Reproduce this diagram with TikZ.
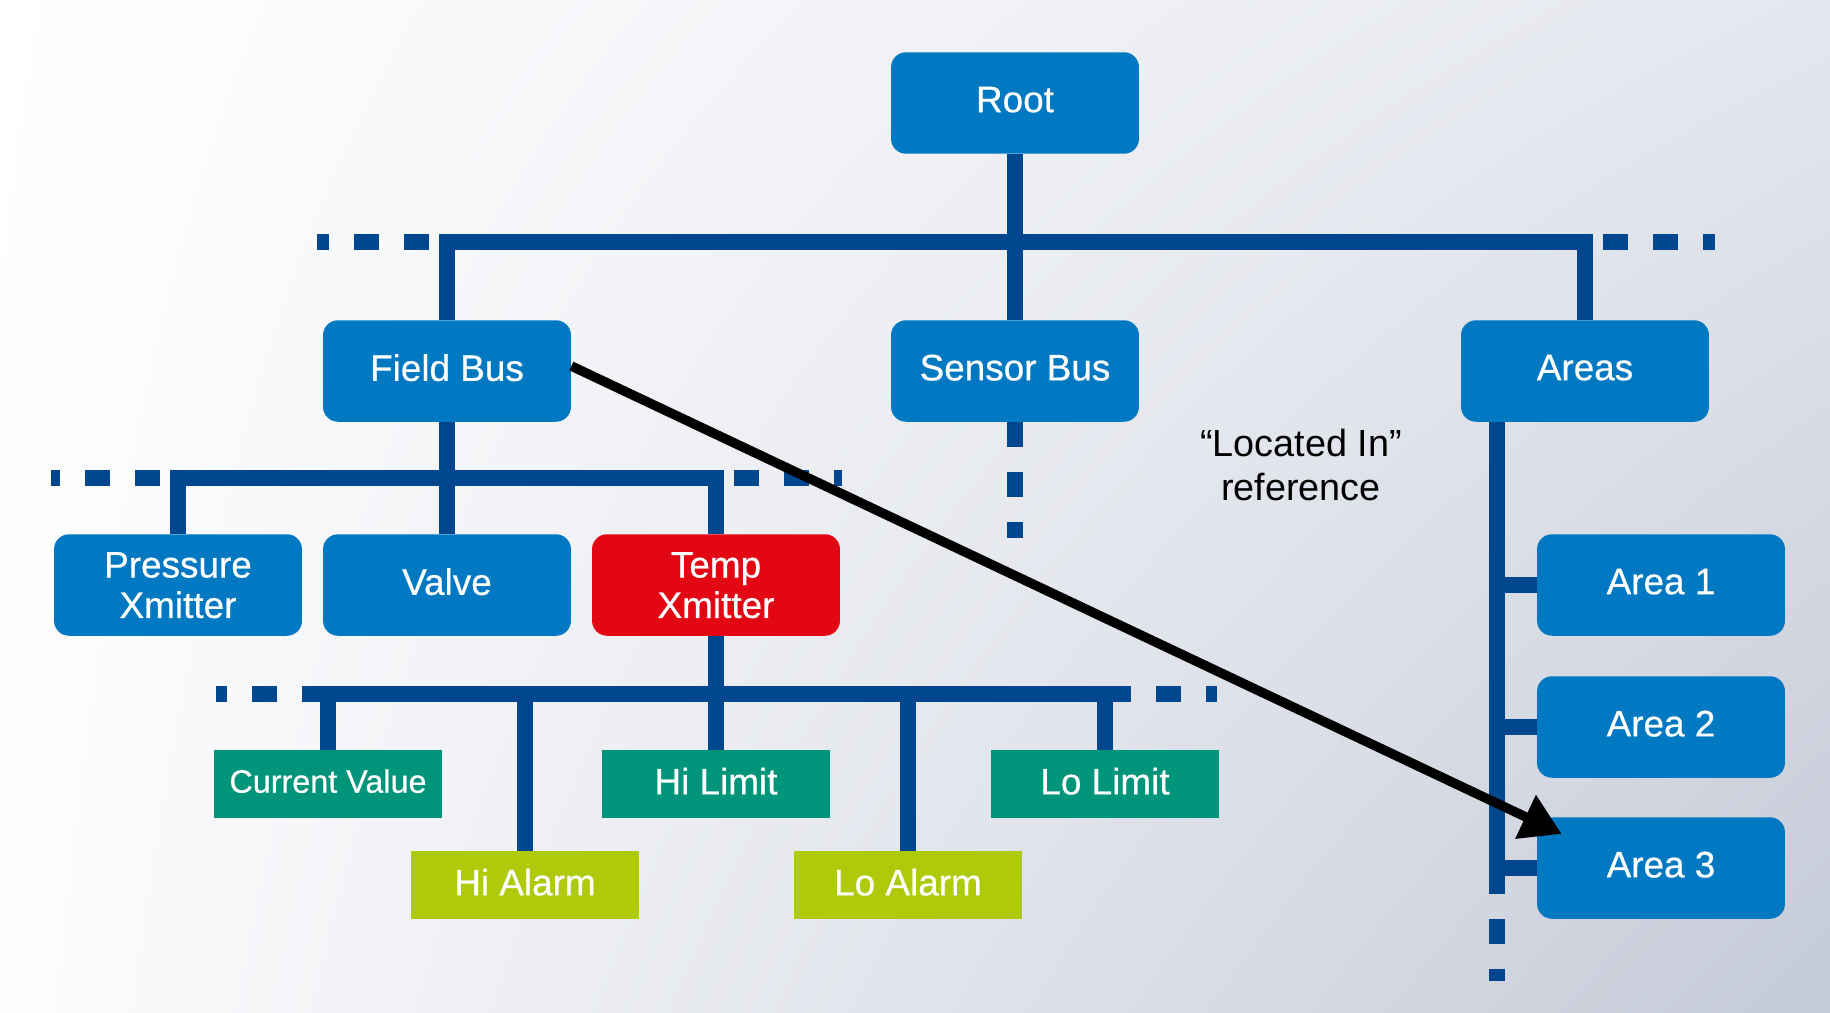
\documentclass[tikz,border=0pt]{standalone}
\usepackage{fontspec}
\setmainfont{Liberation Sans}[BoldFont=Liberation Sans, BoldFeatures={FakeBold=0.5}]
\usepackage{xcolor}
\usetikzlibrary{arrows.meta, shadings}

\definecolor{boxblue}{HTML}{0079C2}
\definecolor{busblue}{HTML}{00478F}
\definecolor{tempred}{HTML}{E30613}
\definecolor{valgreen}{HTML}{00957A}
\definecolor{alarmlime}{HTML}{AFCA0B}
\definecolor{bgcorner}{HTML}{C4CAD7}
\definecolor{bgmid}{HTML}{E4E7EE}

\begin{document}
\begin{tikzpicture}[
    x=0.02cm, y=-0.02cm,
    font=\fontsize{21}{23}\selectfont,
    box/.style={fill=boxblue, text=white, font=\fontsize{21}{23}\selectfont\bfseries,
                minimum width=4.96cm, minimum height=2.03cm, align=center,
                rounded corners=0.3cm, inner sep=0pt, text depth=0.14cm},
    twoline/.style={text depth=0pt},
    tempbox/.style={box, fill=tempred},
    attr/.style={fill=valgreen, text=white, font=\fontsize{21}{23}\selectfont\bfseries,
                 minimum width=4.56cm, minimum height=1.36cm, inner sep=0pt, text depth=0.12cm},
    alarm/.style={attr, fill=alarmlime},
    bus/.style={draw=busblue, line width=0.32cm},
    tail/.style={bus, dash pattern=on 0.5cm off 0.5cm},
    arr/.style={-{Triangle[length=0.8cm, width=0.92cm]}, line width=0.19cm}
]

% Background
\shade[upper left=white, upper right=bgmid, lower left=white!92!bgmid, lower right=bgcorner]
    (0,0) rectangle (1830,1012);

% Tree levels
\node[box]     (root)      at (1015,103) {Root};
\node[box]     (fieldbus)  at (447,371)  {Field Bus};
\node[box]     (sensorbus) at (1015,371) {Sensor Bus};
\node[box]     (areas)     at (1585,371) {Areas};
\node[box, twoline]     (pressure) at (178,585) {Pressure\\Xmitter};
\node[box]              (valve)    at (447,585) {Valve};
\node[tempbox, twoline] (temp)     at (716,585) {Temp\\Xmitter};

% Attributes of the temperature transmitter
\node[attr, font=\fontsize{18.4}{20}\selectfont\bfseries] (curval) at (328,784) {Current Value};
\node[attr]  (hilimit) at (716,784)  {Hi Limit};
\node[attr]  (lolimit) at (1105,784) {Lo Limit};
\node[alarm] (hialarm) at (525,885)  {Hi Alarm};
\node[alarm] (loalarm) at (908,885)  {Lo Alarm};

% Areas
\node[box] (area1) at (1661,585) {Area 1};
\node[box] (area2) at (1661,727) {Area 2};
\node[box] (area3) at (1661,868) {Area 3};

\node[align=center, font=\fontsize{21.5}{25}\selectfont] (locref) at (1301,465) {“Located In”\\reference};

% Top bus
\coordinate (bus1) at (1015,242);
\draw[bus] (root.south) -- (sensorbus.north);
\draw[bus] (fieldbus.north) |- (areas.north |- bus1) -- (areas.north);
\draw[tail, dash phase=0.8cm] ([xshift=-0.16cm]fieldbus.north |- bus1) -- ++(-122,0);
\draw[tail, dash phase=0.8cm] ([xshift=0.16cm]areas.north |- bus1) -- ++(122,0);
\draw[tail] (sensorbus.south) -- ++(0,116);

% Field bus devices
\coordinate (bus2) at (447,478);
\draw[bus] (fieldbus.south) -- (valve.north);
\draw[bus] (pressure.north) |- (temp.north |- bus2) -- (temp.north);
\draw[tail, dash phase=0.8cm] ([xshift=-0.16cm]pressure.north |- bus2) -- ++(-119,0);
\draw[tail, dash phase=0.8cm] ([xshift=0.16cm]temp.north |- bus2) -- ++(118,0);

% Attribute bus
\coordinate (bus3) at (716,694);
\draw[bus] (temp.south) -- (hilimit.north);
\draw[bus] ([xshift=-0.5cm]curval.north |- bus3) -- ([xshift=0.5cm]lolimit.north |- bus3);
\draw[bus] (curval.north |- bus3) -- (curval.north);
\draw[bus] (hialarm.north |- bus3) -- (hialarm.north);
\draw[bus] (loalarm.north |- bus3) -- (loalarm.north);
\draw[bus] (lolimit.north |- bus3) -- (lolimit.north);
\draw[tail, dash phase=0.48cm] ([xshift=-0.5cm]curval.north |- bus3) -- ++(-87,0);
\draw[tail, dash phase=0.48cm] ([xshift=0.5cm]lolimit.north |- bus3) -- ++(87,0);

% Areas line
\coordinate (arealine) at ([xshift=0.72cm]areas.south west);
\draw[bus] (arealine) -- ([yshift=-0.52cm]arealine |- area3.center);
\draw[tail, dash phase=0.5cm] ([yshift=-0.52cm]arealine |- area3.center) -- ++(0,87);
\draw[bus] (arealine |- area1) -- (area1.west);
\draw[bus] (arealine |- area2) -- (area2.west);
\draw[bus] (arealine |- area3) -- (area3.west);

% "Located In" reference
\draw[arr] ([yshift=0.1cm]fieldbus.east) -- ([shift={(0.5cm,-0.34cm)}]area3.north west);

\end{tikzpicture}
\end{document}
